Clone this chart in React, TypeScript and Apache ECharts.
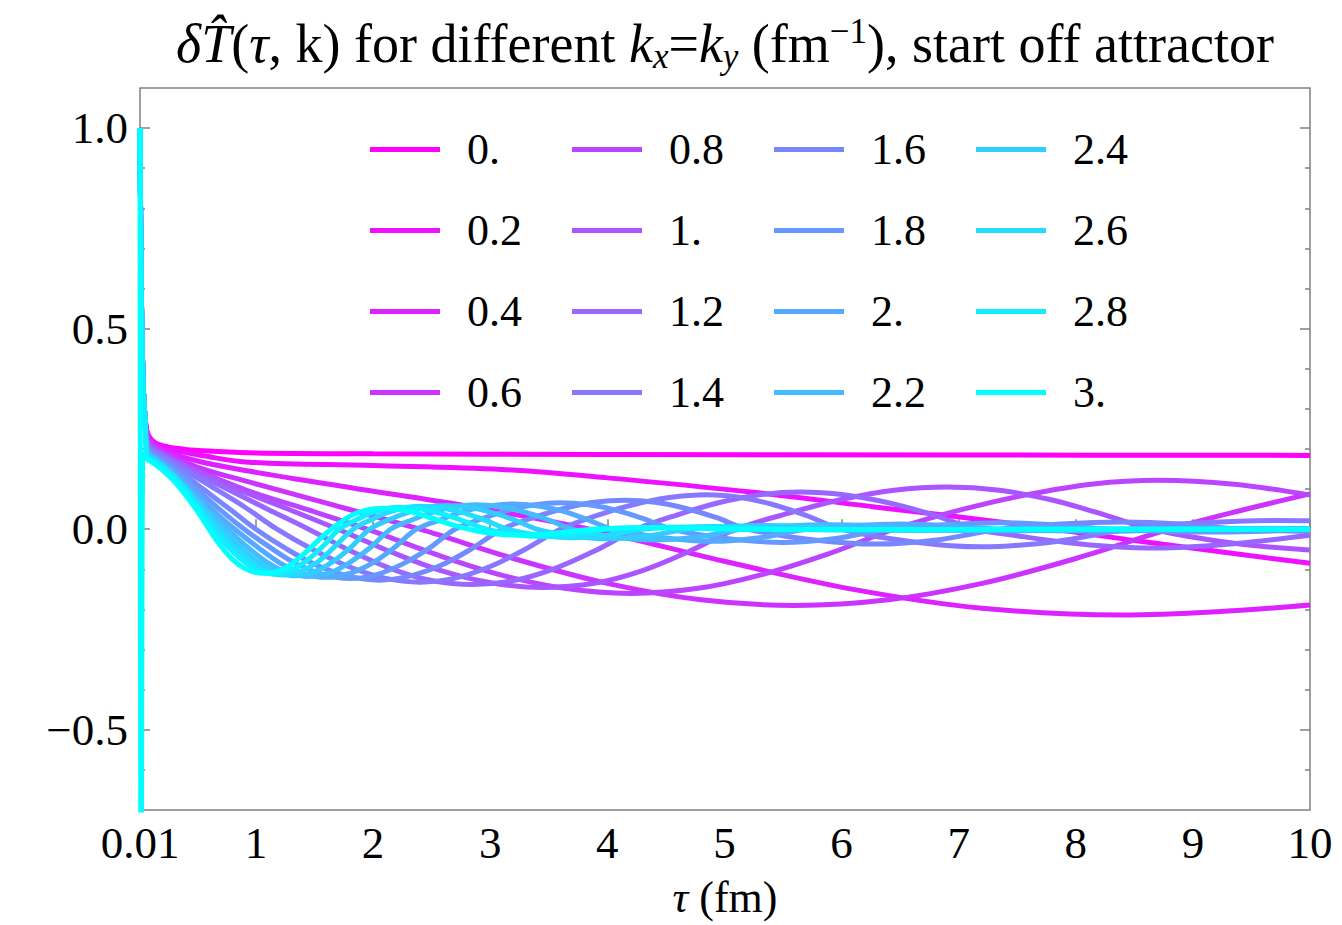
import React, { useEffect, useRef } from 'react';
import * as echarts from 'echarts';

const FONT = "'Liberation Serif', 'Times New Roman', 'DejaVu Serif', serif";

const K_LABELS = ['0.', '0.2', '0.4', '0.6', '0.8', '1.', '1.2', '1.4', '1.6', '1.8', '2.', '2.2', '2.4', '2.6', '2.8', '3.'];

const COLORS = [
  '#ff00ff', '#ee11ff', '#dd22ff', '#cc33ff', '#bb44ff', '#aa55ff', '#9966ff', '#8877ff',
  '#7788ff', '#6699ff', '#55aaff', '#44bbff', '#33ccff', '#22ddff', '#11eeff', '#00ffff',
];

// shared initial drop (tau, value)
const SPIKE = [[0.01, 1.0], [0.02, 0.62], [0.03, 0.44], [0.04, 0.34], [0.05, 0.29]];

const K00 = [[0.07, 0.245], [0.1, 0.226], [0.15, 0.214], [0.25, 0.205], [0.4, 0.199], [0.6, 0.195], [1, 0.19], [2, 0.188], [4, 0.186], [7, 0.185], [10, 0.184]];
const K02 = [[0.07, 0.24], [0.1, 0.222], [0.2, 0.205], [0.35, 0.194], [0.55, 0.183], [0.94, 0.167], [2, 0.159], [3.1, 0.149], [4, 0.128], [5.25, 0.092], [6.3, 0.055], [7.44, 0.015], [8.5, -0.028], [10, -0.085]];
const K04 = [[0.07, 0.235], [0.1, 0.218], [0.2, 0.198], [0.5, 0.17], [0.94, 0.145], [1.8, 0.104], [2.8, 0.058], [3.85, 0], [5.0, -0.08], [6.1, -0.15], [7.2, -0.197], [8.4, -0.214], [9.2, -0.206], [10, -0.189]];
const K06 = [[0.07, 0.23], [0.1, 0.214], [0.2, 0.195], [0.5, 0.155], [0.94, 0.118], [1.5, 0.073], [2.4, 0], [3.2, -0.073], [4.0, -0.135], [4.8, -0.176], [5.6, -0.19], [6.4, -0.176], [7.2, -0.135], [8.0, -0.073], [8.8, 0], [9.4, 0.046], [10, 0.088]];
const K08 = [[0.07, 0.226], [0.1, 0.21], [0.2, 0.19], [0.45, 0.153], [0.94, 0.095], [1.45, 0.048], [1.95, 0], [2.52, -0.061], [3.08, -0.113], [3.65, -0.148], [4.2, -0.16], [4.76, -0.148], [5.32, -0.113], [5.9, -0.06], [6.45, 0], [7.0, 0.047], [7.58, 0.086], [8.15, 0.113], [8.7, 0.122], [9.35, 0.112], [10, 0.085]];
const K10 = [[0.07, 0.222], [0.1, 0.206], [0.2, 0.188], [0.4, 0.158], [0.8, 0.105], [1.25, 0.053], [1.7, 0], [2.14, -0.055], [2.58, -0.103], [3.02, -0.134], [3.45, -0.145], [3.9, -0.134], [4.3, -0.103], [4.7, -0.055], [5.1, 0], [5.55, 0.04], [6.0, 0.074], [6.45, 0.097], [6.9, 0.105], [7.35, 0.097], [7.78, 0.074], [8.2, 0.04], [8.65, 0], [9.35, -0.035], [10, -0.052]];
const K12 = [[0.07, 0.218], [0.1, 0.202], [0.2, 0.185], [0.4, 0.152], [0.75, 0.101], [1.1, 0.05], [1.45, 0], [1.8, -0.053], [2.15, -0.098], [2.5, -0.128], [2.85, -0.138], [3.2, -0.128], [3.55, -0.098], [3.9, -0.053], [4.25, 0], [4.6, 0.036], [4.95, 0.066], [5.3, 0.086], [5.65, 0.093], [6.02, 0.086], [6.4, 0.066], [6.78, 0.036], [7.15, 0], [7.54, -0.018], [7.92, -0.033], [8.3, -0.043], [8.7, -0.047], [9.35, -0.036], [10, -0.015]];
const K14 = [[0.07, 0.213], [0.1, 0.198], [0.2, 0.182], [0.35, 0.155], [0.6, 0.11], [0.9, 0.056], [1.18, 0], [1.48, -0.05], [1.79, -0.093], [2.1, -0.122], [2.4, -0.132], [2.7, -0.122], [3.0, -0.093], [3.3, -0.05], [3.6, 0], [3.9, 0.033], [4.22, 0.061], [4.53, 0.079], [4.85, 0.086], [5.14, 0.079], [5.42, 0.061], [5.71, 0.033], [6.0, 0], [6.6, -0.031], [7.2, -0.044], [7.82, -0.031], [8.45, 0], [9.07, 0.016], [9.7, 0.022], [10, 0.021]];
const K16 = [[0.07, 0.208], [0.1, 0.194], [0.2, 0.176], [0.35, 0.145], [0.55, 0.1], [0.8, 0.045], [1.0, 0], [1.26, -0.049], [1.52, -0.09], [1.79, -0.117], [2.05, -0.127], [2.31, -0.117], [2.58, -0.09], [2.84, -0.049], [3.1, 0], [3.36, 0.028], [3.62, 0.051], [3.89, 0.067], [4.15, 0.072], [4.41, 0.067], [4.68, 0.051], [4.94, 0.028], [5.2, 0], [5.75, -0.026], [6.3, -0.037], [6.83, -0.026], [7.35, 0], [7.87, 0.013], [8.4, 0.018], [8.9, 0.013], [9.4, 0], [10, -0.006]];
const K18 = [[0.07, 0.203], [0.1, 0.19], [0.2, 0.17], [0.35, 0.135], [0.5, 0.098], [0.7, 0.047], [0.9, 0], [1.13, -0.047], [1.35, -0.087], [1.58, -0.113], [1.8, -0.123], [2.03, -0.113], [2.25, -0.087], [2.48, -0.047], [2.7, 0], [2.92, 0.025], [3.15, 0.047], [3.38, 0.061], [3.6, 0.066], [3.84, 0.061], [4.08, 0.047], [4.32, 0.025], [4.55, 0], [5.02, -0.023], [5.5, -0.033], [5.95, -0.023], [6.4, 0], [6.88, 0.011], [7.35, 0.016], [7.82, 0.011], [8.3, 0], [9.2, -0.007], [10, -0.001]];
const K20 = [[0.07, 0.198], [0.1, 0.187], [0.2, 0.165], [0.35, 0.128], [0.5, 0.087], [0.65, 0.043], [0.82, 0], [1.02, -0.046], [1.21, -0.085], [1.41, -0.111], [1.6, -0.12], [1.79, -0.111], [1.99, -0.085], [2.18, -0.046], [2.37, 0], [2.58, 0.024], [2.78, 0.045], [2.99, 0.058], [3.2, 0.063], [3.41, 0.058], [3.62, 0.045], [3.83, 0.024], [4.05, 0], [4.48, -0.021], [4.9, -0.03], [5.3, -0.021], [5.7, 0], [6.1, 0.009], [6.5, 0.013], [6.92, 0.009], [7.35, 0], [8.2, -0.005], [9.0, 0], [9.8, 0.002], [10, 0.002]];
const K22 = [[0.07, 0.193], [0.1, 0.184], [0.2, 0.162], [0.3, 0.135], [0.45, 0.09], [0.6, 0.045], [0.76, 0], [0.93, -0.045], [1.1, -0.083], [1.28, -0.109], [1.45, -0.118], [1.63, -0.109], [1.8, -0.083], [1.98, -0.045], [2.15, 0], [2.33, 0.023], [2.52, 0.043], [2.7, 0.056], [2.88, 0.061], [3.09, 0.056], [3.29, 0.043], [3.5, 0.023], [3.7, 0], [4.05, -0.019], [4.4, -0.027], [4.78, -0.019], [5.15, 0], [5.52, 0.008], [5.9, 0.011], [6.28, 0.008], [6.65, 0], [7.4, -0.004], [8.9, 0.001], [10, 0]];
const K24 = [[0.07, 0.188], [0.1, 0.181], [0.2, 0.16], [0.3, 0.134], [0.42, 0.097], [0.56, 0.05], [0.71, 0], [0.87, -0.045], [1.02, -0.082], [1.18, -0.107], [1.33, -0.116], [1.49, -0.107], [1.65, -0.082], [1.81, -0.045], [1.97, 0], [2.13, 0.023], [2.3, 0.042], [2.46, 0.055], [2.62, 0.059], [2.82, 0.055], [3.01, 0.042], [3.21, 0.023], [3.4, 0], [3.7, -0.017], [4.0, -0.024], [4.34, -0.017], [4.68, 0], [5.0, 0.006], [5.35, 0.009], [5.68, 0.006], [6.0, 0], [6.7, -0.003], [8, 0], [10, 0]];
const K26 = [[0.07, 0.183], [0.1, 0.178], [0.2, 0.157], [0.3, 0.132], [0.4, 0.1], [0.53, 0.052], [0.67, 0], [0.81, -0.044], [0.95, -0.081], [1.09, -0.105], [1.23, -0.114], [1.38, -0.105], [1.53, -0.081], [1.67, -0.044], [1.83, 0], [1.97, 0.022], [2.11, 0.04], [2.26, 0.053], [2.4, 0.057], [2.59, 0.053], [2.78, 0.04], [2.96, 0.022], [3.15, 0], [3.42, -0.015], [3.7, -0.021], [4.0, -0.015], [4.3, 0], [4.6, 0.005], [4.9, 0.007], [5.2, 0.005], [5.5, 0], [6.1, -0.002], [7.5, 0], [10, 0]];
const K28 = [[0.07, 0.178], [0.1, 0.175], [0.2, 0.153], [0.3, 0.127], [0.4, 0.095], [0.5, 0.055], [0.63, 0], [0.76, -0.043], [0.89, -0.079], [1.02, -0.103], [1.15, -0.112], [1.29, -0.103], [1.43, -0.079], [1.57, -0.043], [1.71, 0], [1.84, 0.021], [1.97, 0.039], [2.1, 0.051], [2.22, 0.055], [2.4, 0.051], [2.58, 0.039], [2.77, 0.021], [2.97, 0], [3.2, -0.013], [3.45, -0.018], [3.72, -0.013], [4.0, 0], [4.55, 0.005], [5.1, 0], [6.5, -0.001], [8, 0], [10, 0]];
const K30 = [[0.01, 1.0], [0.02, -1.0], [0.035, 0.19], [0.05, 0.182], [0.07, 0.175], [0.1, 0.17], [0.2, 0.148], [0.3, 0.12], [0.4, 0.085], [0.5, 0.045], [0.6, 0.0], [0.7, -0.042], [0.8, -0.075], [0.9, -0.097], [1.0, -0.108], [1.1, -0.11], [1.25, -0.097], [1.4, -0.064], [1.6, -0.01], [1.8, 0.032], [1.95, 0.048], [2.1, 0.052], [2.3, 0.045], [2.5, 0.028], [2.7, 0.009], [2.9, -0.005], [3.1, -0.013], [3.3, -0.015], [3.55, -0.01], [3.8, -0.002], [4.3, 0.004], [5.0, 0.001], [6.0, -0.001], [7.5, 0], [10, 0]];

const CURVES = [K00, K02, K04, K06, K08, K10, K12, K14, K16, K18, K20, K22, K24, K26, K28, K30];

const X_LABELS = [0.01, 1, 2, 3, 4, 5, 6, 7, 8, 9, 10];
const X_TICKS = [1, 2, 3, 4, 5, 6, 7, 8, 9, 10];
const Y_LABELS = [-0.5, 0, 0.5, 1.0];
const Y_MINOR = [-0.6, -0.4, -0.3, -0.2, -0.1, 0.1, 0.2, 0.3, 0.4, 0.6, 0.7, 0.8, 0.9];

const TICK_STYLE = { color: '#808080', width: 1.5 };

function yFmt(v: number) {
  if (Math.abs(v) < 1e-9) return '0.0';
  return v < 0 ? '\u2212' + Math.abs(v).toFixed(1) : v.toFixed(1);
}

function yAxis(position: string, ticks: number[], len: number, labels: boolean) {
  return {
    type: 'value',
    min: -0.7,
    max: 1.1,
    position,
    axisLine: { show: false },
    splitLine: { show: false },
    axisTick: { show: true, inside: true, length: len, customValues: ticks, lineStyle: TICK_STYLE },
    axisLabel: labels
      ? { show: true, customValues: Y_LABELS, formatter: yFmt, fontFamily: FONT, fontSize: 45, color: '#000', margin: 12 }
      : { show: false },
  };
}

export default function App() {
  const ref = useRef<HTMLDivElement>(null);
  useEffect(() => {
    const chart = echarts.init(ref.current as HTMLDivElement, null, { renderer: 'svg' });
    const series = CURVES.map((pts, i) => ({
      type: 'line',
      name: K_LABELS[i],
      data: i === CURVES.length - 1 ? pts : SPIKE.concat(pts),
      symbol: 'none',
      showSymbol: false,
      smooth: 0.35,
      clip: true,
      lineStyle: { width: 5, color: COLORS[i] },
      itemStyle: { color: COLORS[i] },
      emphasis: { disabled: true },
    }));
    const option: any = {
      animation: false,
      backgroundColor: '#ffffff',
      textStyle: { fontFamily: FONT },
      grid: {
        left: 140, top: 88, width: 1170, height: 722,
        show: true, borderColor: '#808080', borderWidth: 1.5, backgroundColor: 'transparent',
      },
      legend: {
        data: K_LABELS,
        orient: 'vertical',
        left: 365,
        top: 119,
        height: 300,
        itemWidth: 70,
        itemHeight: 5,
        itemGap: 30,
        icon: 'rect',
        selectedMode: false,
        textStyle: {
          fontFamily: FONT, fontSize: 44, color: '#000', lineHeight: 51, width: 75, padding: [0, 0, 0, 22],
        },
      },
      xAxis: {
        type: 'value',
        min: 0.01,
        max: 10,
        position: 'bottom',
        axisLine: { show: false },
        splitLine: { show: false },
        axisTick: { show: true, inside: true, length: 10, customValues: X_TICKS, lineStyle: TICK_STYLE },
        axisLabel: {
          customValues: X_LABELS,
          formatter: (v: number) => (Math.abs(v - 0.01) < 1e-9 ? '0.01' : String(v)),
          fontFamily: FONT, fontSize: 45, color: '#000', margin: 10,
        },
      },
      yAxis: [
        yAxis('left', Y_MINOR, 5, true),
        yAxis('left', Y_LABELS, 10, false),
        yAxis('right', Y_MINOR, 5, false),
        yAxis('right', Y_LABELS, 10, false),
      ],
      graphic: [
        {
          type: 'text',
          x: 725,
          y: 44,
          style: {
            text: '{it|\u03b4T\u0302}({it|\u03c4}, k) for different {it|k}{sub|x}={it|k}{sub|y} (fm{sup|\u22121}), start off attractor',
            fontFamily: FONT, fontSize: 54, lineHeight: 60, fill: '#000',
            align: 'center', verticalAlign: 'middle',
            rich: {
              it: { fontFamily: FONT, fontSize: 54, lineHeight: 60, fontStyle: 'italic' },
              sub: { fontFamily: FONT, fontSize: 35, lineHeight: 35, fontStyle: 'italic', verticalAlign: 'bottom' },
              sup: { fontFamily: FONT, fontSize: 35, lineHeight: 35, verticalAlign: 'top' },
            },
          },
        },
        {
          type: 'text',
          x: 725,
          y: 897,
          style: {
            text: '{it|\u03c4} (fm)',
            fontFamily: FONT, fontSize: 44, lineHeight: 44, fill: '#000',
            align: 'center', verticalAlign: 'middle',
            rich: { it: { fontFamily: FONT, fontSize: 44, lineHeight: 44, fontStyle: 'italic' } },
          },
        },
      ],
      series,
    };
    chart.setOption(option);
    return () => chart.dispose();
  }, []);
  return (
    <div
      ref={ref}
      style={{ position: 'absolute', left: 0, top: 0, width: 1342, height: 925, background: '#fff' }}
    />
  );
}
